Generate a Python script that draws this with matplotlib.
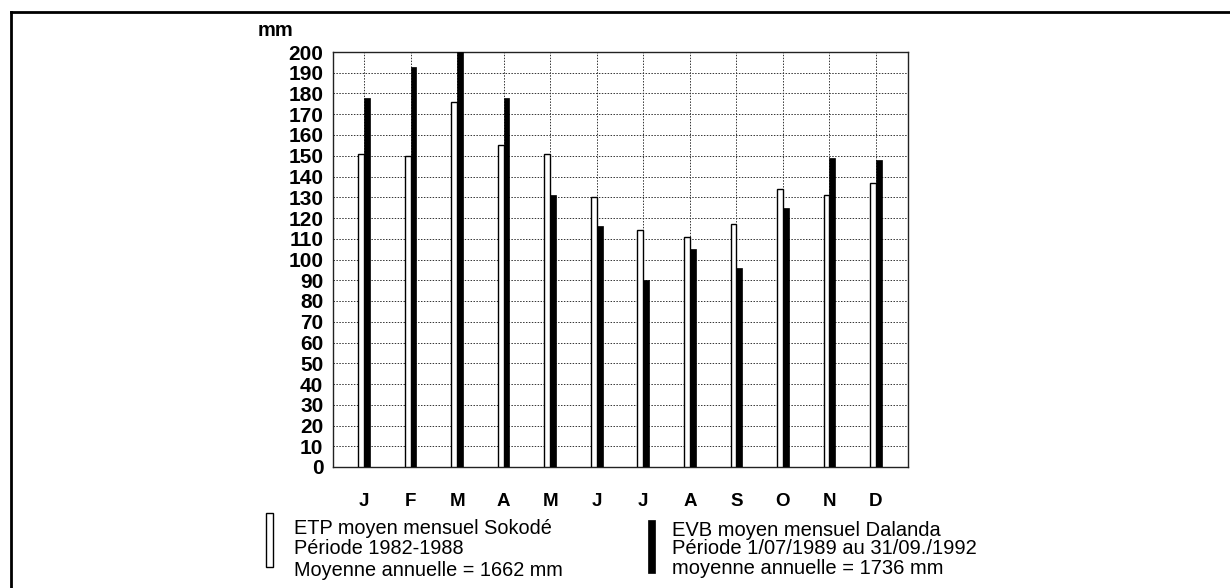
import numpy as np
import matplotlib
matplotlib.use('Agg')
import matplotlib.pyplot as plt
from matplotlib.patches import Rectangle
from matplotlib.lines import Line2D

plt.rcParams['font.family'] = ['Liberation Sans', 'DejaVu Sans']

months = ['J', 'F', 'M', 'A', 'M', 'J', 'J', 'A', 'S', 'O', 'N', 'D']
etp_sokode = [151, 150, 176, 155, 151, 130, 114, 111, 117, 134, 131, 137]
evb_dalanda = [178, 193, 200, 178, 131, 116, 90, 105, 96, 125, 149, 148]
yticks = list(range(0, 201, 10))

W, H = 1230, 588
fig = plt.figure(figsize=(W / 100, H / 100), dpi=100)

def fx(px):
    return px / W

def fy(py):
    return 1 - py / H

# plot area (pixels): left 333, right 908, top 52, bottom 467
ax = fig.add_axes([fx(333), fy(467), fx(908) - fx(333), fy(52) - fy(467)])

x = np.arange(len(months))
bw = 0.125
ax.bar(x - bw, etp_sokode, width=bw, align='edge', color='white',
       edgecolor='black', linewidth=1.0, zorder=3)
ax.bar(x, evb_dalanda, width=bw, align='edge', color='black',
       edgecolor='black', linewidth=0.5, zorder=3)

ax.set_xlim(-0.666, 11.688)
ax.set_ylim(0, 200)
ax.set_yticks(yticks)
ax.set_yticklabels([str(v) for v in yticks], fontsize=15, fontweight='bold')
ax.set_xticks(x)
ax.set_xticklabels(months, fontsize=13.5, fontweight='bold')
ax.tick_params(axis='y', length=0, pad=7)
ax.tick_params(axis='x', length=0, pad=19)

ax.set_axisbelow(True)
ax.grid(True, color='#333333', linestyle=(0, (1.5, 1.5)), linewidth=0.7)
for s in ax.spines.values():
    s.set_linewidth(1.0)
    s.set_color('#222222')

fig.text(fx(258), fy(30), 'mm', fontsize=14.5, fontweight='bold',
         ha='left', va='center')

# legend, drawn by hand like the original
fig.add_artist(Rectangle((fx(266), fy(567)), fx(273) - fx(266), fy(513) - fy(567),
                         transform=fig.transFigure, facecolor='white',
                         edgecolor='black', linewidth=1.0))
fig.add_artist(Rectangle((fx(648), fy(573)), fx(655) - fx(648), fy(520) - fy(573),
                         transform=fig.transFigure, facecolor='black',
                         edgecolor='black', linewidth=0.5))

left_lines = ['ETP moyen mensuel Sokodé', 'Période 1982-1988',
              'Moyenne annuelle = 1662 mm']
right_lines = ['EVB moyen mensuel Dalanda', 'Période 1/07/1989 au 31/09./1992',
               'moyenne annuelle = 1736 mm']
for txt, yy in zip(left_lines, [528, 549, 570]):
    fig.text(fx(294), fy(yy), txt, fontsize=14.3, ha='left', va='center')
for txt, yy in zip(right_lines, [530, 549, 568]):
    fig.text(fx(672), fy(yy), txt, fontsize=14.5, ha='left', va='center')

# frame lines (top and left only)
fig.add_artist(Line2D([fx(11), 1], [fy(12), fy(12)], transform=fig.transFigure,
                      color='black', linewidth=2))
fig.add_artist(Line2D([fx(11), fx(11)], [0, fy(12)], transform=fig.transFigure,
                      color='black', linewidth=2))

fig.savefig('out.png', dpi=100)
